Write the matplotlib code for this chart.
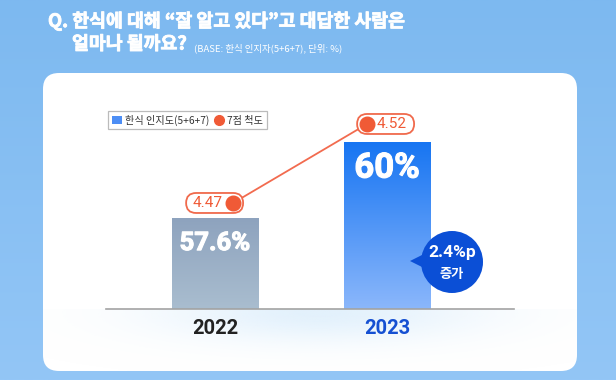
import numpy as np
import matplotlib
matplotlib.use("Agg")
import matplotlib.pyplot as plt
from matplotlib.patches import FancyBboxPatch, Circle, Polygon, Patch
from matplotlib.lines import Line2D
from matplotlib.colors import LinearSegmentedColormap, to_rgb
from matplotlib.transforms import IdentityTransform
import matplotlib.patheffects as pe

# ---------------- data ----------------
years = ["2022", "2023"]
awareness = [57.6, 60.0]           # 한식 인지도(5+6+7), %
awareness_labels = ["57.6%", "60%"]
scale7 = [4.47, 4.52]              # 7점 척도
scale7_labels = ["4.47", "4.52"]
increase_label = "2.4%p"
increase_text = "증가"
title1 = "Q. 한식에 대해 “잘 알고 있다”고 대답한 사람은"
title2 = "얼마나 될까요?"
base_note = "(BASE: 한식 인지자(5+6+7), 단위: %)"
legend_labels = ["한식 인지도(5+6+7)", "7점 척도"]

KR = ["Noto Sans CJK KR", "DejaVu Sans"]
NUM = ["Roboto", "DejaVu Sans"]
plt.rcParams["font.family"] = KR

W, H = 616, 380
fig = plt.figure(figsize=(W / 100, H / 100), dpi=100)

# ---------------- background (pixel coords) ----------------
bg = fig.add_axes([0, 0, 1, 1], zorder=0)
bg.set_xlim(0, W); bg.set_ylim(H, 0); bg.axis("off")
grad = np.linspace(0, 1, 256)[:, None]
bgcmap = LinearSegmentedColormap.from_list("bgc", ["#7DB9F0", "#93C6F6"])
bg.imshow(grad, extent=[0, W, H, 0], cmap=bgcmap, aspect="auto", zorder=0)

card = FancyBboxPatch((43, 73), 534, 298, boxstyle="round,pad=0,rounding_size=16",
                      facecolor="white", edgecolor="none", zorder=1)
bg.add_patch(card)

# soft glow below baseline
gx = np.linspace(43, 577, 300)
gy = np.linspace(309, 371, 80)
GX, GY = np.meshgrid(gx, gy)
alpha = np.exp(-((GX - 320) / 160) ** 2 - ((GY - 312) / 30) ** 2) * 0.8
rgba = np.zeros(GX.shape + (4,))
rgba[..., :3] = to_rgb("#DCEEFC")
rgba[..., 3] = alpha
glow = bg.imshow(rgba, extent=[43, 577, 371, 309], aspect="auto", zorder=2)
glow.set_clip_path(card)

bold_fx = [pe.withStroke(linewidth=0.6, foreground="white")]
bg.text(48, 21, title1, color="white", fontsize=13.2, fontweight="bold",
        ha="left", va="center", family=KR, path_effects=bold_fx)
bg.text(72, 44, title2, color="white", fontsize=13.2, fontweight="bold",
        ha="left", va="center", family=KR, path_effects=bold_fx)
bg.text(194, 48.5, base_note, color="white", fontsize=6.8,
        ha="left", va="center", family=KR)

# ---------------- main axes ----------------
ax_l, ax_r, ax_b, ax_t = 106, 514, 309, 100
ax = fig.add_axes([ax_l / W, 1 - ax_b / H, (ax_r - ax_l) / W, (ax_b - ax_t) / H], zorder=2)
ax.patch.set_alpha(0)
x = np.arange(len(years))
bw = 0.5
y0 = 54.73
xl = (-0.634, 1.738)
yl = (y0, y0 + 209 / 31.67)

bars = ax.bar(x, awareness, width=bw, bottom=0, color="none", edgecolor="none")
bar_grads = [("#8EA3BE", "#A9BDCF"), ("#1775F2", "#8BB7FB")]
for b, (ctop, cbot) in zip(bars, bar_grads):
    cm = LinearSegmentedColormap.from_list("g", [ctop, cbot])
    bx, bwid, bh = b.get_x(), b.get_width(), b.get_height()
    im = ax.imshow(grad, extent=[bx, bx + bwid, y0, bh], cmap=cm, aspect="auto", zorder=1)
    im.set_clip_path(b)
ax.set_aspect("auto")
ax.set_xlim(*xl)
ax.set_ylim(*yl)

for xi, v, lab, fs, off in zip(x, awareness, awareness_labels, [18.5, 25], [-25, -26]):
    ax.annotate(lab, xy=(xi, v), xytext=(0, off), textcoords="offset pixels",
                ha="center", va="center", color="white", fontsize=fs,
                fontweight="bold", family=NUM, zorder=3,
                path_effects=[pe.withStroke(linewidth=0.8, foreground="white")])

for sp in ["top", "left", "right"]:
    ax.spines[sp].set_visible(False)
ax.spines["bottom"].set_color("#A3A3A3")
ax.spines["bottom"].set_linewidth(1.2)
ax.set_yticks([])
ax.set_xticks(x)
ax.set_xticklabels(years, fontsize=14.5, fontweight="bold", family=NUM)
ax.tick_params(axis="x", length=0, pad=7)
for t, c in zip(ax.get_xticklabels(), ["#222222", "#1550D2"]):
    t.set_color(c)

# ---------------- line on twin axis ----------------
ax2 = ax.twinx()
ax2.set_zorder(3)
ax2.patch.set_alpha(0)
ax2.set_ylim(4.4029, 4.4029 + 209 / 1580)
ax2.set_yticks([])
for sp in ax2.spines.values():
    sp.set_visible(False)
line_x = x + np.array([0.105, -0.116])
red = "#F05A36"
ax2.plot(line_x, scale7, color="#F26B4F", lw=1.3, zorder=2)
ax2.plot(line_x, scale7, "o", color=red, ms=10.5, zorder=5)

fig.canvas.draw()
pill_specs = [(-47, -26), (-10, 25)]   # pill left offset, text offset (pixels)
for xi, v, lab, (left, toff) in zip(line_x, scale7, scale7_labels, pill_specs):
    px, py = ax2.transData.transform((xi, v))
    pill = FancyBboxPatch((px + left, py - 10), 57, 20,
                          boxstyle="round,pad=0,rounding_size=10",
                          facecolor="white", edgecolor="#F06A4C", lw=1.3,
                          transform=IdentityTransform(), zorder=4)
    ax2.add_patch(pill)
    ax2.annotate(lab, xy=(xi, v), xytext=(toff, 0), textcoords="offset pixels",
                 ha="center", va="center", color=red, fontsize=11,
                 family=NUM, zorder=6)

# ---------------- legend ----------------
handles = [Patch(facecolor="#4D8EF5", edgecolor="none"),
           Line2D([], [], marker="o", color=red, ls="none", ms=7)]
leg = ax2.legend(handles, legend_labels, loc="upper left", ncol=2,
                 bbox_to_anchor=(108 / W, 1 - 111 / H), bbox_transform=fig.transFigure,
                 frameon=True, fancybox=False, edgecolor="#BBBBBB", framealpha=1,
                 fontsize=7.3, handlelength=1.0, handleheight=0.9, handletextpad=0.35,
                 columnspacing=0.4, borderpad=0.35, borderaxespad=0)
leg.get_frame().set_linewidth(0.9)
for t in leg.get_texts():
    t.set_color("#333333")

# ---------------- overlay: increase bubble ----------------
ov = fig.add_axes([0, 0, 1, 1], zorder=6)
ov.set_xlim(0, W); ov.set_ylim(H, 0); ov.axis("off"); ov.patch.set_alpha(0)
bc = "#0B4FD6"
ov.add_patch(Polygon([(410, 261), (428, 252), (430, 271)], closed=True,
                     facecolor=bc, edgecolor="none"))
ov.add_patch(Circle((452, 262), 31, facecolor=bc, edgecolor="none"))
ov.text(452, 252, increase_label, color="white", fontsize=12.5, fontweight="bold",
        ha="center", va="center", family=NUM)
ov.text(452, 274, increase_text, color="white", fontsize=9.5, fontweight="bold",
        ha="center", va="center", family=KR)

fig.savefig("out.png", dpi=100)
